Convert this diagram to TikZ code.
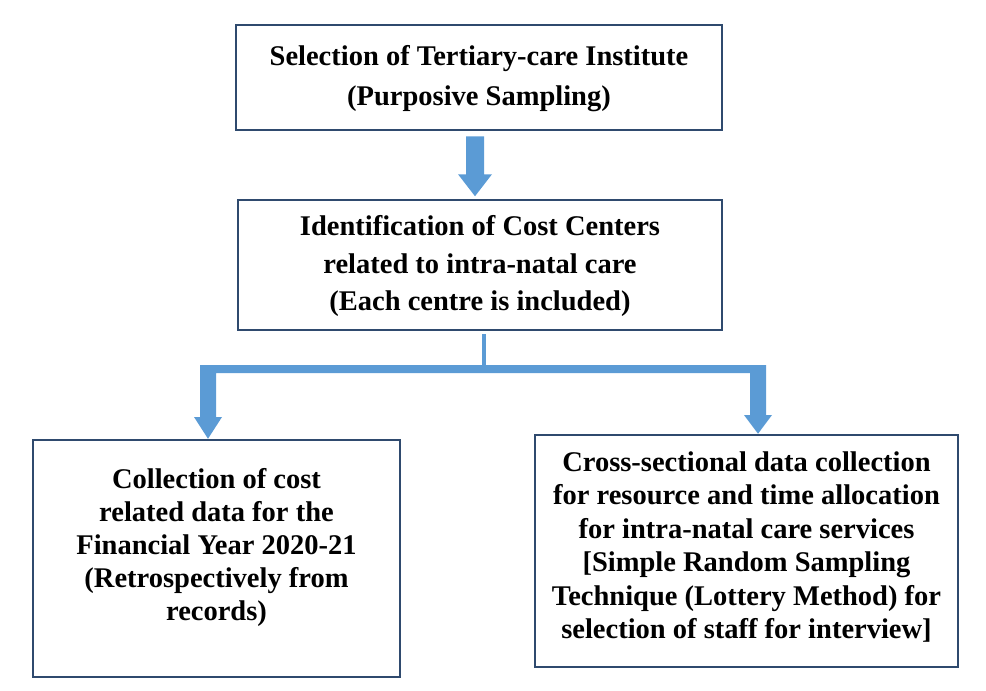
\documentclass[tikz,border=0pt]{standalone}
\usepackage{fontspec}
\setmainfont{Liberation Serif}
\usetikzlibrary{calc}
\definecolor{navy}{HTML}{2F4A6E}
\definecolor{arr}{HTML}{5B9BD5}
\tikzset{box/.style={draw=navy,line width=2.5pt,inner sep=0pt},
 txt/.style={align=center,inner sep=0pt},
 arrfill/.style={fill=arr,draw=none}}
\newcommand{\bfs}[1]{\bfseries\fontsize{28.5}{#1}\selectfont}
\begin{document}
\begin{tikzpicture}[x=1pt,y=-1pt]
\useasboundingbox (0,0) rectangle (986,691);
\node[box,minimum width=486,minimum height=105] (t) at (479,77.5) {};
\node[txt,font=\bfs{40}] (tt) at (479,79) {Selection of Tertiary-care Institute\\(Purposive Sampling)};
\node[box,minimum width=484,minimum height=130] (m) at (480,265) {};
\node[txt,font=\bfs{37.5}] (mt) at (480,266) {Identification of Cost Centers\\related to intra-natal care\\(Each centre is included)};
\node[box,minimum width=367,minimum height=237] (l) at (216.5,558.5) {};
\node[txt,font=\bfs{33}] (lt) at (216.5,547) {Collection of cost\\related data for the\\Financial Year 2020-21\\(Retrospectively from\\records)};
\node[box,minimum width=423,minimum height=232] (r) at (746.5,551) {};
\node[txt,font=\bfs{33.5}] (rt) at (746.5,547) {Cross-sectional data collection\\for resource and time allocation\\for intra-natal care services\\{[Simple Random Sampling}\\Technique (Lottery Method) for\\selection of staff for interview]};
% top arrow
\path (t.south) ++(-4,0) coordinate (ta);
\fill[arrfill] ($(ta)+(-9,5)$) -- ($(ta)+(9,5)$) -- ($(ta)+(9,43)$) -- ($(ta)+(17,43)$) -- ($(ta)+(0,65)$) -- ($(ta)+(-17,43)$) -- ($(ta)+(-9,43)$) -- cycle;
% branch
\coordinate (bm) at ($(m.south)+(4,0)$);
\fill[arrfill] ($(bm)+(-2,3)$) rectangle ($(bm)+(2,36)$);
\coordinate (bl) at (208,365);
\coordinate (br) at (758,365);
\fill[arrfill] ($(bl)+(-8,0)$) -- ($(br)+(8,0)$) -- ($(br)+(8,50)$) -- ($(br)+(14,50)$) -- (r.north -| br) -- ($(br)+(-14,50)$) -- ($(br)+(-8,50)$) -- ($(br)+(-8,8)$) -- ($(bl)+(8,8)$) -- ($(bl)+(8,52)$) -- ($(bl)+(14,52)$) -- (l.north -| bl) -- ($(bl)+(-14,52)$) -- ($(bl)+(-8,52)$) -- cycle;
\end{tikzpicture}
\end{document}
